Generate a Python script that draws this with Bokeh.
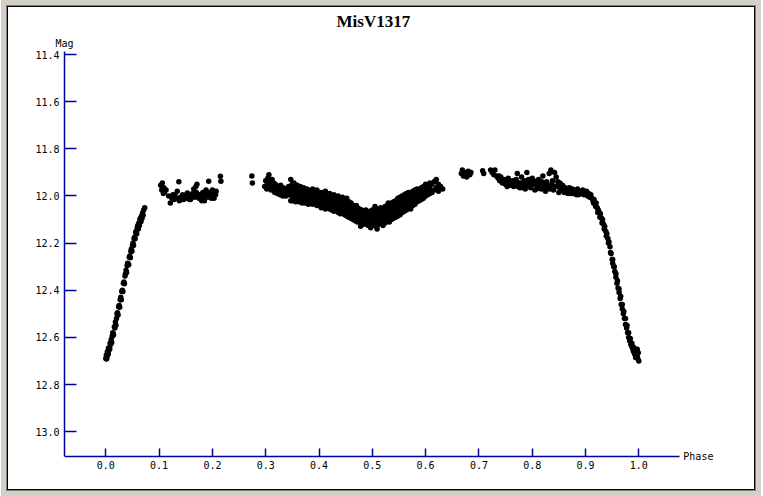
from bokeh.plotting import figure
from bokeh.models import (Range1d, FixedTicker, PrintfTickFormatter, Label, Title,
                          ColumnDataSource)
from bokeh.embed import file_html
from bokeh.resources import INLINE

# ---------------- data (phase, magnitude) ----------------
title_text = "MisV1317"
x_ticks = [0.0, 0.1, 0.2, 0.3, 0.4, 0.5, 0.6, 0.7, 0.8, 0.9, 1.0]
y_ticks = [11.4, 11.6, 11.8, 12.0, 12.2, 12.4, 12.6, 12.8, 13.0]

ingress = [
    (0.000, 12.690), (0.001, 12.675), (0.002, 12.685), (0.003, 12.660), (0.004, 12.668),
    (0.005, 12.645), (0.006, 12.655), (0.008, 12.625), (0.009, 12.630), (0.010, 12.610),
    (0.012, 12.595), (0.013, 12.580), (0.014, 12.585), (0.016, 12.555), (0.017, 12.560),
    (0.018, 12.535), (0.020, 12.520), (0.021, 12.500), (0.022, 12.495), (0.024, 12.470),
    (0.025, 12.465), (0.027, 12.440), (0.028, 12.430), (0.030, 12.405), (0.031, 12.400),
    (0.033, 12.370), (0.034, 12.365), (0.036, 12.340), (0.037, 12.330), (0.038, 12.315),
    (0.040, 12.295), (0.041, 12.285), (0.042, 12.290), (0.044, 12.260), (0.045, 12.255),
    (0.047, 12.235), (0.048, 12.225), (0.050, 12.210), (0.051, 12.200), (0.053, 12.180),
    (0.054, 12.175), (0.056, 12.155), (0.057, 12.150), (0.059, 12.135), (0.060, 12.125),
    (0.062, 12.115), (0.064, 12.100), (0.065, 12.095), (0.067, 12.085), (0.069, 12.072),
    (0.071, 12.060), (0.073, 12.050),
    (0.0015, 12.692), (0.0045, 12.672), (0.0075, 12.648), (0.011, 12.622), (0.0145, 12.590),
    (0.019, 12.548), (0.023, 12.505), (0.026, 12.472), (0.029, 12.440), (0.032, 12.405),
    (0.035, 12.372), (0.039, 12.325), (0.043, 12.292), (0.046, 12.262), (0.049, 12.235),
    (0.052, 12.210), (0.055, 12.182), (0.058, 12.160), (0.061, 12.140), (0.063, 12.125),
    (0.066, 12.108), (0.068, 12.095), (0.070, 12.082),
]

plateau = [
    (0.103, 11.955), (0.105, 11.975), (0.106, 11.945), (0.108, 11.990), (0.109, 11.965),
    (0.110, 11.985), (0.118, 12.000), (0.121, 12.030), (0.124, 12.010), (0.126, 11.995),
    (0.128, 12.015), (0.130, 11.995), (0.134, 11.980), (0.137, 11.940), (0.140, 12.005),
    (0.142, 12.015), (0.144, 11.995), (0.146, 12.015), (0.148, 12.000), (0.150, 12.010),
    (0.153, 11.987), (0.155, 12.005), (0.157, 12.015), (0.159, 12.015), (0.161, 12.000),
    (0.163, 11.990), (0.165, 11.970), (0.167, 12.005), (0.169, 11.960), (0.171, 11.950),
    (0.173, 12.000), (0.175, 12.010), (0.178, 11.994), (0.180, 12.020), (0.182, 11.985),
    (0.184, 12.008), (0.186, 11.995), (0.188, 11.975), (0.190, 11.987), (0.192, 12.000),
    (0.193, 11.937), (0.195, 12.005), (0.197, 11.990), (0.199, 11.985), (0.200, 11.975),
    (0.202, 12.000), (0.204, 11.990), (0.215, 11.916), (0.216, 11.937),
    (0.113, 11.975), (0.132, 12.010), (0.138, 12.020), (0.151, 11.995), (0.160, 12.005),
    (0.170, 11.985), (0.176, 12.010), (0.185, 12.020), (0.189, 12.005), (0.194, 11.985),
    (0.198, 12.010), (0.201, 11.995), (0.203, 12.010), (0.206, 11.995), (0.207, 11.980),
    (0.274, 11.915), (0.275, 11.945),
]

pre_dip = [
    (0.298, 11.960), (0.300, 11.935), (0.302, 11.970), (0.303, 11.945), (0.304, 11.925),
    (0.306, 11.910), (0.307, 11.955), (0.308, 11.940), (0.310, 11.975), (0.311, 11.950),
    (0.312, 11.930), (0.314, 11.965), (0.315, 11.945), (0.317, 11.985), (0.318, 11.950),
    (0.320, 11.970), (0.322, 11.990), (0.323, 11.960), (0.325, 11.975), (0.327, 11.995),
    (0.328, 11.955), (0.330, 11.980), (0.332, 12.000), (0.333, 11.965), (0.335, 11.985),
    (0.337, 11.970), (0.338, 12.000), (0.340, 11.980), (0.342, 11.995), (0.343, 11.960),
    (0.345, 11.990),
]

dip = [
    (0.347, (11.930, 11.975, 12.020)), (0.350, (11.950, 11.990, 12.020)),
    (0.353, (11.945, 11.980, 12.010)), (0.356, (11.960, 12.000, 12.025)),
    (0.359, (11.955, 11.985, 12.015)), (0.362, (11.965, 11.995, 12.025)),
    (0.365, (11.960, 12.005, 12.020)), (0.368, (11.970, 11.990, 12.030)),
    (0.371, (11.965, 12.000, 12.025)), (0.374, (11.975, 12.005, 12.030)),
    (0.377, (11.970, 11.995, 12.025)), (0.380, (11.975, 12.010, 12.035)),
    (0.384, (11.980, 12.000, 12.030)), (0.388, (11.970, 12.005, 12.035)),
    (0.392, (11.980, 12.015, 12.030)), (0.396, (11.975, 12.005, 12.040)),
    (0.400, (11.985, 12.015, 12.040)), (0.404, (11.985, 12.015, 12.050)),
    (0.408, (11.990, 12.025, 12.045)), (0.412, (11.980, 12.020, 12.055)),
    (0.416, (11.995, 12.030, 12.050)), (0.420, (11.990, 12.025, 12.055)),
    (0.424, (12.000, 12.035, 12.060)), (0.428, (11.995, 12.030, 12.065)),
    (0.432, (12.005, 12.040, 12.060)), (0.436, (12.000, 12.035, 12.070)),
    (0.440, (12.010, 12.045, 12.075)), (0.444, (12.005, 12.050, 12.070)),
    (0.448, (12.015, 12.045, 12.080)), (0.452, (12.010, 12.055, 12.085)),
    (0.456, (12.025, 12.060, 12.090)), (0.460, (12.030, 12.065, 12.095)),
    (0.464, (12.040, 12.070, 12.100)), (0.468, (12.045, 12.075, 12.105)),
    (0.472, (12.050, 12.085, 12.110)), (0.476, (12.055, 12.080, 12.105)),
    (0.480, (12.060, 12.090, 12.115)), (0.484, (12.065, 12.095, 12.120)),
    (0.488, (12.060, 12.090, 12.115)), (0.492, (12.070, 12.100, 12.125)),
    (0.496, (12.065, 12.095, 12.120)), (0.500, (12.060, 12.090, 12.125)),
    (0.504, (12.065, 12.100, 12.120)), (0.508, (12.060, 12.095, 12.130)),
    (0.512, (12.055, 12.090, 12.120)), (0.516, (12.050, 12.085, 12.115)),
    (0.520, (12.055, 12.080, 12.110)), (0.524, (12.045, 12.075, 12.115)),
    (0.528, (12.040, 12.080, 12.105)), (0.532, (12.035, 12.070, 12.110)),
    (0.536, (12.030, 12.065, 12.100)), (0.540, (12.025, 12.060, 12.095)),
    (0.544, (12.020, 12.055, 12.090)), (0.548, (12.010, 12.050, 12.085)),
    (0.552, (12.005, 12.040, 12.080)), (0.556, (12.000, 12.035, 12.070)),
    (0.560, (11.995, 12.030, 12.065)), (0.564, (11.990, 12.025, 12.060)),
    (0.568, (11.985, 12.020, 12.050)), (0.572, (11.990, 12.015, 12.055)),
    (0.576, (11.980, 12.010, 12.040)), (0.580, (11.975, 12.005, 12.035)),
    (0.584, (11.970, 11.995, 12.025)), (0.588, (11.975, 12.000, 12.020)),
    (0.592, (11.965, 11.990, 12.015)), (0.596, (11.960, 11.985, 12.010)),
    (0.600, (11.950, 11.980, 12.000)), (0.604, (11.955, 11.975, 11.995)),
    (0.608, (11.945, 11.970, 11.990)), (0.612, (11.950, 11.985)),
    (0.616, (11.940, 11.975)), (0.620, (11.930, 11.965)),
    (0.624, (11.950, 11.980)), (0.628, (11.960,)), (0.632, (11.970,)),
    (0.478, (12.128,)), (0.497, (12.135,)), (0.509, (12.140,)), (0.520, (12.125,)),
    (0.470, (12.040,)), (0.505, (12.045,)), (0.530, (12.030,)),
]

dip_fill = [
    (0.349, (11.955, 12.000)), (0.352, (11.968, 12.008)), (0.355, (11.962, 12.012)),
    (0.358, (11.978, 12.010)), (0.361, (11.980, 12.012)), (0.364, (11.982, 12.015)),
    (0.367, (11.985, 12.018)), (0.370, (11.985, 12.015)), (0.373, (11.990, 12.020)),
    (0.376, (11.988, 12.022)), (0.379, (11.992, 12.020)), (0.382, (11.995, 12.025)),
    (0.386, (11.992, 12.020)), (0.390, (11.990, 12.025)), (0.394, (11.998, 12.030)),
    (0.398, (11.995, 12.028)), (0.402, (12.000, 12.030)), (0.406, (12.005, 12.035)),
    (0.410, (12.008, 12.040)), (0.414, (12.005, 12.038)), (0.418, (12.010, 12.042)),
    (0.422, (12.012, 12.045)), (0.426, (12.015, 12.048)), (0.430, (12.018, 12.050)),
    (0.434, (12.022, 12.052)), (0.438, (12.020, 12.055)), (0.442, (12.028, 12.060)),
    (0.446, (12.030, 12.062)), (0.450, (12.032, 12.065)), (0.454, (12.035, 12.070)),
    (0.458, (12.042, 12.075)), (0.462, (12.050, 12.080)), (0.466, (12.055, 12.088)),
    (0.470, (12.062, 12.092)), (0.474, (12.068, 12.098)), (0.478, (12.072, 12.100)),
    (0.482, (12.075, 12.105)), (0.486, (12.078, 12.108)), (0.490, (12.080, 12.110)),
    (0.494, (12.082, 12.112)), (0.498, (12.078, 12.108)), (0.502, (12.080, 12.112)),
    (0.506, (12.078, 12.110)), (0.510, (12.075, 12.108)), (0.514, (12.072, 12.105)),
    (0.518, (12.068, 12.100)), (0.522, (12.062, 12.095)), (0.526, (12.060, 12.092)),
    (0.530, (12.055, 12.090)), (0.534, (12.050, 12.085)), (0.538, (12.045, 12.080)),
    (0.542, (12.040, 12.075)), (0.546, (12.035, 12.070)), (0.550, (12.028, 12.065)),
    (0.554, (12.020, 12.058)), (0.558, (12.015, 12.052)), (0.562, (12.010, 12.045)),
    (0.566, (12.005, 12.040)), (0.570, (12.000, 12.035)), (0.574, (11.998, 12.030)),
    (0.578, (11.992, 12.025)), (0.582, (11.988, 12.020)), (0.586, (11.982, 12.010)),
    (0.590, (11.980, 12.008)), (0.594, (11.975, 12.002)), (0.598, (11.970, 11.995)),
    (0.602, (11.965, 11.990)), (0.606, (11.960, 11.985)),
]

post_dip = [
    (0.667, 11.905), (0.669, 11.890), (0.671, 11.915), (0.674, 11.900), (0.677, 11.920),
    (0.680, 11.895), (0.683, 11.910), (0.685, 11.900), (0.707, 11.893), (0.709, 11.905),
    (0.722, 11.890), (0.725, 11.900), (0.728, 11.910), (0.730, 11.890), (0.733, 11.915),
    (0.736, 11.925), (0.739, 11.935), (0.741, 11.920), (0.744, 11.945), (0.747, 11.930),
    (0.750, 11.950), (0.752, 11.940), (0.755, 11.925), (0.757, 11.955), (0.760, 11.945),
    (0.763, 11.935), (0.765, 11.960), (0.768, 11.950), (0.770, 11.930), (0.772, 11.905),
    (0.775, 11.945), (0.777, 11.965), (0.780, 11.920), (0.782, 11.950), (0.785, 11.935),
    (0.787, 11.970), (0.790, 11.900), (0.792, 11.955), (0.795, 11.940), (0.797, 11.965),
    (0.800, 11.925), (0.802, 11.950), (0.805, 11.975), (0.807, 11.940), (0.810, 11.960),
    (0.812, 11.930), (0.815, 11.945), (0.817, 11.970), (0.820, 11.915), (0.822, 11.955),
    (0.825, 11.980), (0.827, 11.940), (0.830, 11.960), (0.832, 11.905), (0.835, 11.890),
    (0.837, 11.950), (0.840, 11.975), (0.842, 11.900), (0.845, 11.920), (0.847, 11.960),
    (0.850, 11.985), (0.852, 11.945), (0.855, 11.970), (0.857, 11.955), (0.860, 11.985),
    (0.862, 11.965), (0.865, 11.975), (0.867, 11.990), (0.870, 11.965), (0.872, 11.980),
    (0.875, 11.970), (0.877, 11.990), (0.880, 11.975), (0.882, 11.985), (0.885, 11.970),
    (0.887, 11.995), (0.890, 11.980), (0.892, 11.990), (0.895, 11.975), (0.897, 11.995),
    (0.900, 11.985), (0.902, 11.980), (0.904, 12.000), (0.906, 11.990), (0.908, 12.005),
    (0.910, 11.995),
    (0.738, 11.915), (0.743, 11.930), (0.748, 11.945), (0.753, 11.960), (0.758, 11.940),
    (0.762, 11.955), (0.767, 11.935), (0.773, 11.960), (0.778, 11.945), (0.783, 11.965),
    (0.788, 11.950), (0.793, 11.930), (0.798, 11.950), (0.803, 11.935), (0.808, 11.970),
    (0.813, 11.955), (0.818, 11.940), (0.823, 11.965), (0.828, 11.950), (0.833, 11.970),
    (0.838, 11.935), (0.843, 11.960), (0.848, 11.940), (0.853, 11.975), (0.858, 11.965),
    (0.863, 11.985), (0.868, 11.975), (0.873, 11.990), (0.878, 11.980), (0.883, 11.995),
]

egress = [
    (0.912, 12.010), (0.914, 12.020), (0.916, 12.015), (0.918, 12.035), (0.920, 12.030),
    (0.922, 12.050), (0.924, 12.060), (0.926, 12.070), (0.928, 12.075), (0.930, 12.095),
    (0.932, 12.100), (0.934, 12.120), (0.936, 12.130), (0.938, 12.150), (0.940, 12.160),
    (0.942, 12.180), (0.944, 12.195), (0.946, 12.215), (0.948, 12.245), (0.950, 12.270),
    (0.951, 12.285), (0.953, 12.300), (0.955, 12.320), (0.957, 12.345), (0.959, 12.370),
    (0.961, 12.390), (0.963, 12.410), (0.965, 12.435), (0.967, 12.460), (0.969, 12.480),
    (0.971, 12.500), (0.973, 12.520), (0.975, 12.545), (0.977, 12.560), (0.979, 12.580),
    (0.981, 12.600), (0.983, 12.615), (0.985, 12.630), (0.987, 12.640), (0.989, 12.650),
    (0.990, 12.660), (0.991, 12.645), (0.992, 12.670), (0.993, 12.655), (0.994, 12.685),
    (0.995, 12.660), (0.996, 12.675), (0.997, 12.650), (0.998, 12.690), (1.000, 12.700),
    (0.915, 12.030), (0.919, 12.045), (0.923, 12.070), (0.927, 12.090), (0.931, 12.115),
    (0.935, 12.140), (0.939, 12.170), (0.943, 12.200), (0.947, 12.240), (0.951, 12.270),
    (0.954, 12.300), (0.957, 12.330), (0.960, 12.360), (0.963, 12.395), (0.966, 12.425),
    (0.969, 12.460), (0.972, 12.490), (0.975, 12.520), (0.978, 12.550), (0.981, 12.580),
    (0.984, 12.605), (0.987, 12.625), (0.989, 12.640), (0.999, 12.665), (0.997, 12.680),
]

# ---------------- assemble ----------------
phase, mag = [], []
for seg in (ingress, plateau, pre_dip, post_dip, egress):
    for ph, m in seg:
        phase.append(ph)
        mag.append(m)
for seg in (dip, dip_fill):
    for ph, ms in seg:
        for m in ms:
            phase.append(ph)
            mag.append(m)

src = ColumnDataSource(data=dict(x=phase, y=mag))

# axis extents (data units) and pixel scale
X0, X1 = -0.0775, 1.076           # x axis line from / to
Y_TOP, Y_BOTTOM = 11.387, 13.106  # y axis line from / to
PX_PER_PHASE = 533.0
PX_PER_MAG = 236.25
W, H = 748, 484
LEFT, TOP, BOTTOM = 56, 43, 18    # panels around the frame

x_end = X0 + (W - LEFT) / PX_PER_PHASE
y_bottom = Y_TOP + (H - TOP - BOTTOM) / PX_PER_MAG

AXIS_COLOR = "#0000a0"
MONO = "DejaVu Sans Mono"

p = figure(width=W, height=H, output_backend="svg", toolbar_location=None,
           title=None,
           x_range=Range1d(X0, x_end), y_range=Range1d(y_bottom, Y_TOP),
           min_border_left=LEFT, min_border_right=0, min_border_top=TOP,
           min_border_bottom=BOTTOM, background_fill_color="white",
           border_fill_color="white")
p.outline_line_color = None
p.xgrid.visible = False
p.ygrid.visible = False
p.styles = {"border": "1px solid black", "margin-left": "7px", "margin-top": "6px",
            "box-shadow": "0 0 0 1px #808080, 0 0 0 6px #d4d0c8"}

p.xaxis[0].bounds = (X0, X1)
p.yaxis[0].bounds = (Y_TOP, Y_BOTTOM)
p.xaxis[0].fixed_location = Y_BOTTOM
for ax, ticks, tin in ((p.xaxis[0], x_ticks, 8), (p.yaxis[0], y_ticks, 12)):
    ax.ticker = FixedTicker(ticks=ticks)
    ax.formatter = PrintfTickFormatter(format="%.1f")
    ax.axis_line_color = AXIS_COLOR
    ax.axis_line_width = 1.5
    ax.major_tick_line_color = AXIS_COLOR
    ax.major_tick_line_width = 1.5
    ax.major_tick_in = tin
    ax.major_tick_out = 0
    ax.minor_tick_line_color = None
    ax.major_label_text_font = MONO
    ax.major_label_text_font_size = "10px"
    ax.major_label_text_color = "black"
    ax.major_label_standoff = 5
p.xaxis[0].major_label_standoff = 4

p.scatter("x", "y", source=src, size=5.5, marker="circle",
          fill_color="black", line_color=None)

mag_title = Title(text="Mag", align="left", offset=-9, text_font=MONO,
                  text_font_size="10px", text_font_style="normal",
                  text_color="black")
main_title = Title(text=title_text, align="left", offset=272,
                   text_font="Liberation Serif", text_font_size="17px",
                   text_font_style="bold", text_color="black")
if "standoff" in Title.properties():
    mag_title.standoff = 6
    main_title.standoff = 4
p.add_layout(mag_title, "above")
p.add_layout(main_title, "above")

p.add_layout(Label(x=X1, y=Y_BOTTOM, x_offset=4, text="Phase", text_font=MONO,
                   text_font_size="10px", text_align="left",
                   text_baseline="middle", text_color="black"))

open("out.html", "w").write(file_html(p, INLINE))
